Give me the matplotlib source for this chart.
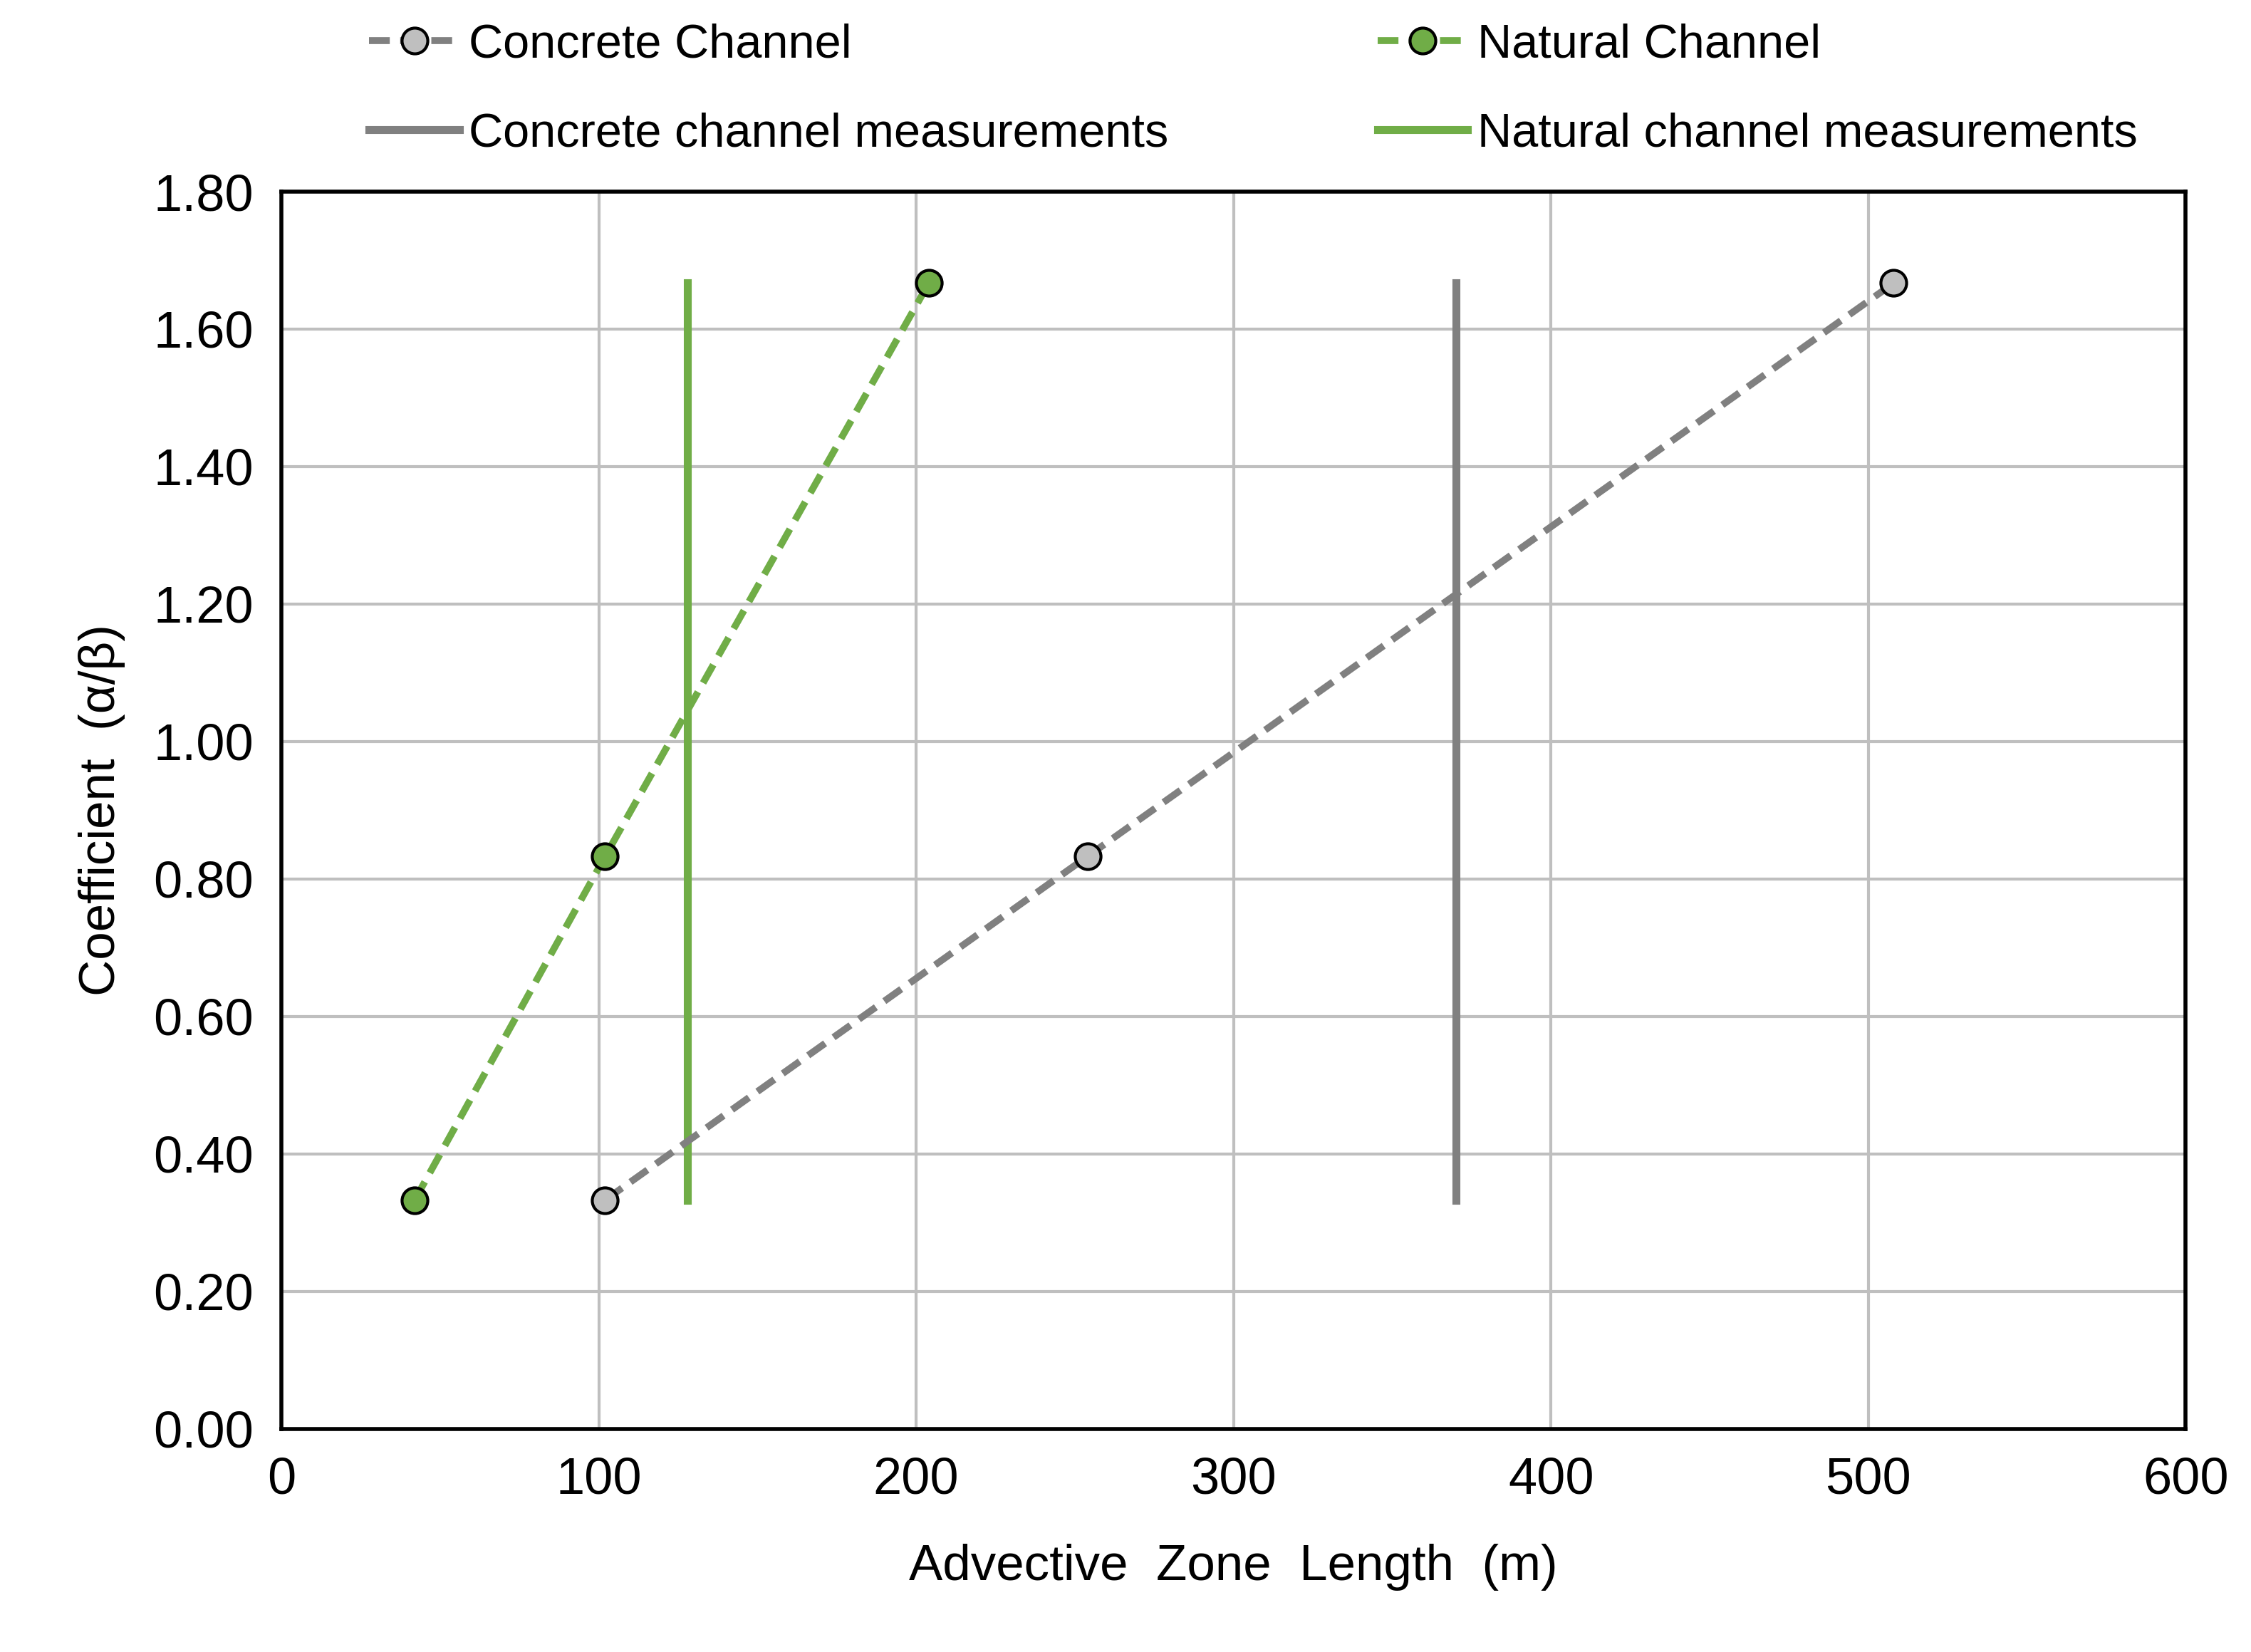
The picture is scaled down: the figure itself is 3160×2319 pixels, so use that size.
import numpy as np
import matplotlib
matplotlib.use('Agg')
import matplotlib.pyplot as plt

plt.rcParams['font.family'] = ['Liberation Sans', 'DejaVu Sans']

# data
coef = [0.333, 0.833, 1.667]
concrete_len = [102, 254, 508]
natural_len = [42, 102, 204]
concrete_meas = 370
natural_meas = 128

fig = plt.figure(figsize=(15.8, 11.595), dpi=200)
ax = fig.add_axes([0.125, 0.135, 0.846, 0.749])

ax.plot(concrete_len, coef, '--o', color='#808080', lw=3.5, dashes=(3, 1.5),
        markerfacecolor='#BFBFBF', markeredgecolor='black', markersize=13, mew=1.5,
        label='Concrete Channel', zorder=3)
ax.plot(natural_len, coef, '--o', color='#70AD47', lw=3.5, dashes=(3, 1.5),
        markerfacecolor='#70AD47', markeredgecolor='black', markersize=13, mew=1.5,
        label='Natural Channel', zorder=3)
ax.plot([concrete_meas, concrete_meas], [coef[0], coef[-1]], color='#808080', lw=4,
        label='Concrete channel measurements')
ax.plot([natural_meas, natural_meas], [coef[0], coef[-1]], color='#70AD47', lw=4,
        label='Natural channel measurements')

ax.set_xlim(0, 600)
ax.set_ylim(0, 1.8)
ax.set_xticks(np.arange(0, 601, 100))
ax.set_yticks(np.arange(0, 1.81, 0.2))
ax.set_yticklabels([f'{v:.2f}' for v in np.arange(0, 1.81, 0.2)])
ax.grid(True, color='#BFBFBF', lw=1.5)
ax.set_axisbelow(True)
for s in ax.spines.values():
    s.set_linewidth(2)
ax.tick_params(labelsize=26, length=0, pad=14)
ax.set_xlabel('Advective  Zone  Length  (m)', fontsize=25.5, labelpad=20)
ax.set_ylabel('Coefficient  (α/β)', fontsize=25.5, labelpad=14)

h, l = ax.get_legend_handles_labels()
order = [0, 2, 1, 3]
fig.legend([h[i] for i in order], [l[i] for i in order], ncol=2, frameon=False,
           fontsize=24, loc='upper left', bbox_to_anchor=(0.145, 1.012),
           handlelength=1.9, handletextpad=0.2, columnspacing=4.4, labelspacing=0.95)

fig.savefig('out.png', dpi=200)
